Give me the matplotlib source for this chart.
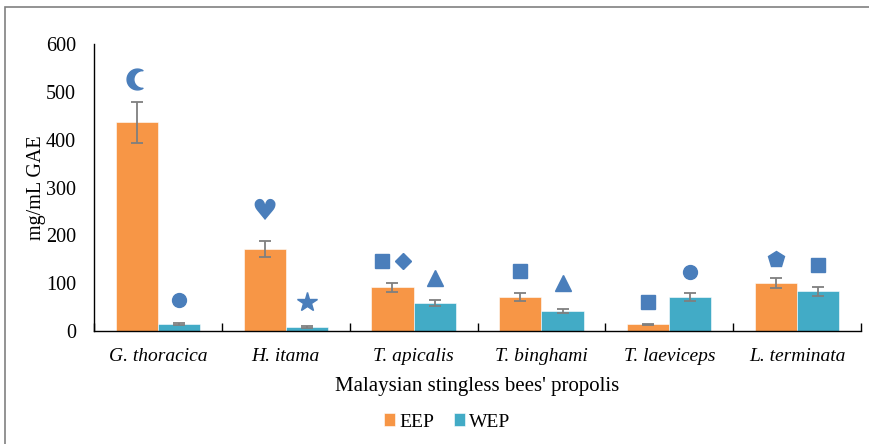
import matplotlib.pyplot as plt
import numpy as np
from matplotlib.patches import Rectangle
from matplotlib.path import Path

plt.rcParams['font.family'] = ['Liberation Serif', 'DejaVu Serif']

species = ['G. thoracica', 'H. itama', 'T. apicalis', 'T. binghami', 'T. laeviceps', 'L. terminata']
eep = [436, 172, 91, 71, 14, 100]
eep_err = [43, 17, 10, 8, 1.5, 11]
wep = [15, 8, 58, 42, 71, 83]
wep_err = [2, 1.5, 6, 5, 8, 9]

# significance symbols: (group index, side, offset within bar, height, marker)
symbols = [
    (0, 'EEP', 0.0, 527, 'moon'),
    (0, 'WEP', 0.0, 65, 'o'),
    (1, 'EEP', 0.0, 249, 'heart'),
    (1, 'WEP', 0.0, 61, '*'),
    (2, 'EEP', -0.085, 146, 's'),
    (2, 'EEP', 0.08, 146, 'D'),
    (2, 'WEP', 0.0, 111, '^'),
    (3, 'EEP', 0.0, 125, 's'),
    (3, 'WEP', 0.0, 100, '^'),
    (4, 'EEP', 0.0, 61, 's'),
    (4, 'WEP', 0.0, 123, 'o'),
    (5, 'EEP', 0.0, 150, 'p'),
    (5, 'WEP', 0.0, 137, 's'),
]

c_eep = '#F79646'
c_wep = '#42ABC6'
c_sym = '#4A7EBB'
c_err = '#7F7F7F'


def crescent_marker(d=0.5, r=0.85):
    # filled crescent opening to the right: unit circle minus a shifted circle
    xi = (1 + d ** 2 - r ** 2) / (2 * d)
    yi = np.sqrt(1 - xi ** 2)
    a0 = np.arctan2(yi, xi)
    outer = np.linspace(a0, 2 * np.pi - a0, 60)
    b0 = np.arctan2(yi, xi - d)
    inner = np.linspace(2 * np.pi - b0, b0, 60)
    pts = np.concatenate([np.c_[np.cos(outer), np.sin(outer)],
                          np.c_[d + r * np.cos(inner), r * np.sin(inner)]])
    pts = np.vstack([pts, pts[:1]])
    codes = [Path.MOVETO] + [Path.LINETO] * (len(pts) - 2) + [Path.CLOSEPOLY]
    return Path(pts, codes)


fig = plt.figure(figsize=(8.69, 4.44), dpi=100)
ax = fig.add_axes([94 / 869, 1 - 331 / 444, (861 - 94) / 869, (331 - 44) / 444])

x = np.arange(len(species))
w = 0.33
ax.bar(x - w / 2, eep, w, color=c_eep, edgecolor='white', linewidth=0.4, label='EEP')
ax.bar(x + w / 2, wep, w, color=c_wep, edgecolor='white', linewidth=0.4, label='WEP')
ax.errorbar(x - w / 2, eep, yerr=eep_err, fmt='none', ecolor=c_err, elinewidth=1.3, capsize=4, capthick=1.3)
ax.errorbar(x + w / 2, wep, yerr=wep_err, fmt='none', ecolor=c_err, elinewidth=1.3, capsize=4, capthick=1.3)

moon = crescent_marker()
for i, side, off, h, m in symbols:
    xs = x[i] + (-w / 2 if side == 'EEP' else w / 2) + off
    if m == 'moon':
        ax.plot(xs, h, marker=moon, markersize=15, color=c_sym, linestyle='none')
    elif m == 'heart':
        ax.text(xs, h, '\u2665', family='DejaVu Sans', fontsize=21, color=c_sym,
                ha='center', va='center')
    else:
        size = {'o': 10, 's': 10, 'D': 8.5, '^': 11, '*': 15, 'p': 12}[m]
        ax.plot(xs, h, marker=m, markersize=size, color=c_sym, linestyle='none')

ax.set_xlim(-0.5, len(species) - 0.5)
ax.set_ylim(0, 600)
ax.set_yticks(range(0, 601, 100))
ax.set_xticks(x)
ax.set_xticklabels(species, fontstyle='italic', fontsize=14)
ax.set_xticks(np.arange(-0.5, len(species)), minor=True)
ax.tick_params(axis='x', which='major', length=0, pad=12)
ax.tick_params(axis='x', which='minor', direction='in', length=6, width=1)
ax.tick_params(axis='y', length=0, labelsize=14.5, pad=13)
for s in ['top', 'right']:
    ax.spines[s].set_visible(False)
ax.spines['left'].set_linewidth(1)
ax.spines['bottom'].set_linewidth(1)

ax.set_ylabel('mg/mL GAE', fontsize=14.5, labelpad=0)
ax.set_xlabel("Malaysian stingless bees' propolis", fontsize=15, labelpad=9)

ax.legend(loc='center', bbox_to_anchor=(447 / 869, 1 - 422 / 444), bbox_transform=fig.transFigure,
          ncol=2, frameon=False, fontsize=14, handlelength=0.6, handleheight=0.6,
          handletextpad=0.2, columnspacing=1.0)

# outer frame around the chart area
fig.patches.append(Rectangle((5 / 869, -0.1), 1.2, 1.1 - 7 / 444, transform=fig.transFigure,
                             fill=False, edgecolor='#808080', linewidth=1.2))

fig.savefig('out.png', dpi=100)
